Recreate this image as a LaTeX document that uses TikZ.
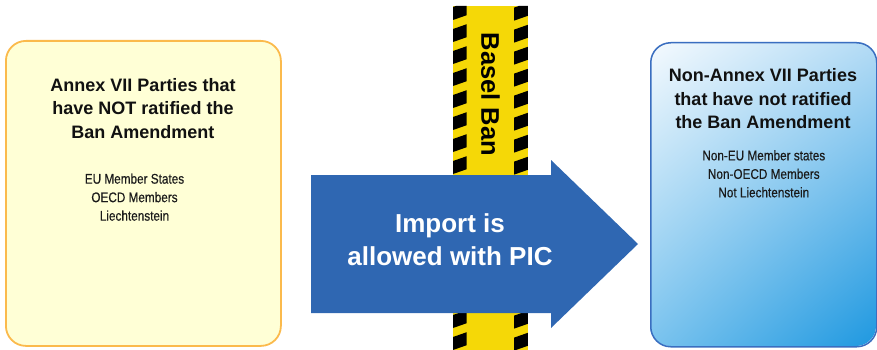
\documentclass[tikz,border=0pt]{standalone}
\usepackage{fontspec}
\usetikzlibrary{shadings}
\setmainfont{Liberation Sans}
\newfontfamily\condfont[FakeStretch=0.84,FakeBold=0.4]{Liberation Sans}
\definecolor{boxyellow}{HTML}{FFFFD6}
\definecolor{boxorange}{HTML}{FBBA4C}
\definecolor{boxblueline}{HTML}{3A6EC0}
\definecolor{bUL}{HTML}{F5FAFE}
\definecolor{bUR}{HTML}{B3DBF5}
\definecolor{bLL}{HTML}{7AC3EE}
\definecolor{bLR}{HTML}{1E98E0}
\definecolor{arrowblue}{HTML}{2F67B2}
\definecolor{tapeyellow}{HTML}{F5D807}
\definecolor{titletext}{HTML}{111111}
\definecolor{listtext}{HTML}{1A1A1A}
\tikzset{
  titlefont/.style={font=\bfseries\fontsize{18}{23.5}\selectfont, text=titletext, align=center, inner sep=0pt, anchor=north},
  listfont/.style={font=\condfont\fontsize{14}{18.5}\selectfont, text=listtext, align=center, inner sep=0pt, anchor=north},
}
\begin{document}
\begin{tikzpicture}[x=1pt,y=-1pt]
\useasboundingbox (0,0) rectangle (877,350);
% left box
\node[draw=boxorange, line width=1.8pt, fill=boxyellow, rounded corners=20pt,
  minimum width=275pt, minimum height=305pt, inner sep=0pt, anchor=north west] (lbox) at (5,40) {};
% right box
\begin{scope}
  \path[clip, rounded corners=20pt] (650,42) rectangle (876,346);
  \shade[upper left=bUL, upper right=bUR, lower left=bLL, lower right=bLR] (650,42) rectangle (876,346);
\end{scope}
\node[draw=boxblueline, line width=1.5pt, rounded corners=20pt,
  minimum width=226pt, minimum height=304pt, inner sep=0pt, anchor=north west] (rbox) at (650,42) {};
% tape
\node[fill=tapeyellow, minimum width=75pt, minimum height=344pt, inner sep=0pt, anchor=north west] (tape) at (453,6) {};
\begin{scope}
  \clip (453,6) rectangle (466.5,350) (514,6) rectangle (528,350);
  \foreach \k in {-2,...,17}{
    \fill[black] (453,{7+22*\k}) -- (528,{7+22*\k-26.25}) -- (528,{7+22*\k-26.25+13}) -- (453,{7+22*\k+13}) -- cycle;
  }
\end{scope}
\node[font=\bfseries\fontsize{25.5}{30}\selectfont, rotate=-90, inner sep=0pt] (ban) at (490.5,94.5) {Basel Ban};
% arrow
\draw[fill=arrowblue, draw=none] (311,175) -- (551,175) -- (551,160) -- (638,244) -- (551,328) -- (551,313) -- (311,313) -- cycle;
\node[font=\bfseries\fontsize{26}{33}\selectfont, text=white, align=center, inner sep=0pt, anchor=north] (imp) at (450,213) {Import is\\allowed with PIC};
% texts
\node[titlefont] (ltitle) at (143,78) {Annex VII Parties that\\have NOT ratified the\\Ban Amendment};
\node[listfont] (llist) at (134.5,173.3) {EU Member States\\OECD Members\\Liechtenstein};
\node[titlefont] (rtitle) at (763,68.3) {Non-Annex VII Parties\\that have not ratified\\the Ban Amendment};
\node[listfont] (rlist) at (763.8,150) {Non-EU Member states\\Non-OECD Members\\Not Liechtenstein};
\end{tikzpicture}
\end{document}
